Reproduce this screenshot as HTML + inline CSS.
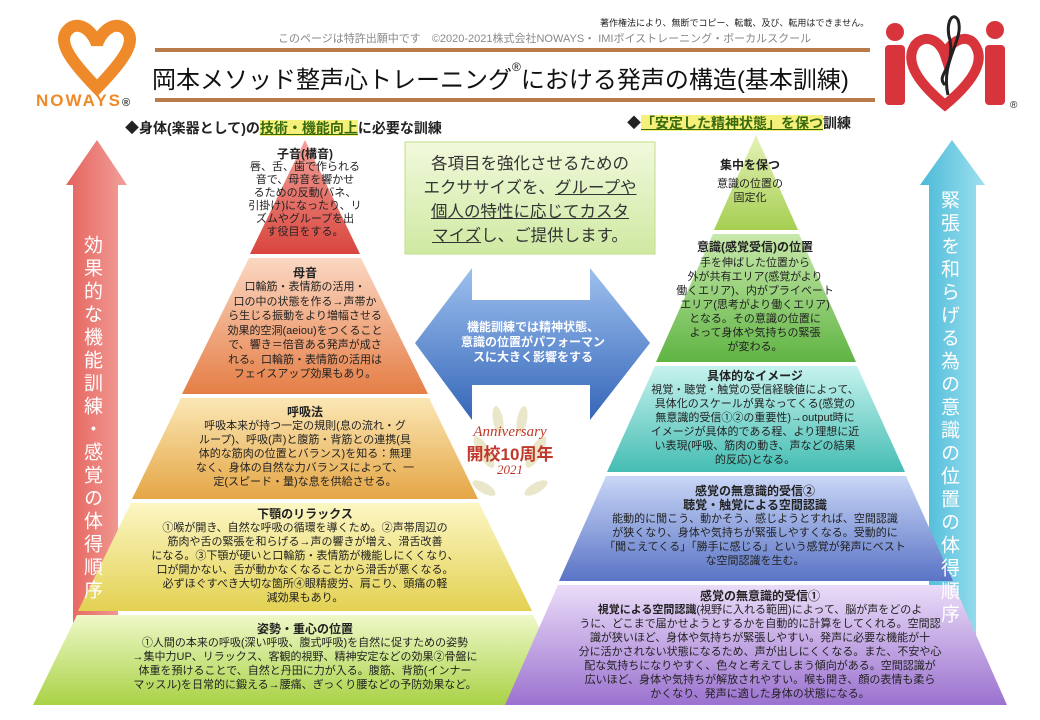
<!DOCTYPE html>
<html><head><meta charset="utf-8"><style>
body{margin:0;width:1040px;height:720px;overflow:hidden;background:#fff;font-family:"Liberation Sans","Noto Sans CJK JP",sans-serif;}
.a{position:absolute;color:#222;text-align:center;}
.t{font-weight:bold;font-size:12px;line-height:14px;}
.b{font-size:11px;line-height:14px;}
.v{position:absolute;writing-mode:vertical-rl;font-size:19px;letter-spacing:4px;font-family:"Noto Sans CJK JP",sans-serif;}
</style></head><body>
<svg width="1040" height="720" style="position:absolute;left:0;top:0">
<defs>
<linearGradient id="g1" x1="0" y1="0" x2="0" y2="1"><stop offset="0" stop-color="#f3a39b"/><stop offset="1" stop-color="#d8453d"/></linearGradient>
<linearGradient id="g2" x1="0" y1="0" x2="0" y2="1"><stop offset="0" stop-color="#fbd7c2"/><stop offset="1" stop-color="#e57e46"/></linearGradient>
<linearGradient id="g3" x1="0" y1="0" x2="0" y2="1"><stop offset="0" stop-color="#fbe7b5"/><stop offset="1" stop-color="#e5a646"/></linearGradient>
<linearGradient id="g4" x1="0" y1="0" x2="0" y2="1"><stop offset="0" stop-color="#fcf6c4"/><stop offset="1" stop-color="#e3d152"/></linearGradient>
<linearGradient id="g5" x1="0" y1="0" x2="0" y2="1"><stop offset="0" stop-color="#eef8c8"/><stop offset="1" stop-color="#a9d246"/></linearGradient>
<linearGradient id="h1" x1="0" y1="0" x2="0" y2="1"><stop offset="0" stop-color="#e5f2b7"/><stop offset="1" stop-color="#a6cf52"/></linearGradient>
<linearGradient id="h2" x1="0" y1="0" x2="0" y2="1"><stop offset="0" stop-color="#c8e9ac"/><stop offset="1" stop-color="#5fb443"/></linearGradient>
<linearGradient id="h3" x1="0" y1="0" x2="0" y2="1"><stop offset="0" stop-color="#c6f2ee"/><stop offset="1" stop-color="#45bdb3"/></linearGradient>
<linearGradient id="h4" x1="0" y1="0" x2="0" y2="1"><stop offset="0" stop-color="#c9d6f6"/><stop offset="1" stop-color="#5a74c6"/></linearGradient>
<linearGradient id="h5" x1="0" y1="0" x2="0" y2="1"><stop offset="0" stop-color="#eadcf8"/><stop offset="1" stop-color="#9b72cf"/></linearGradient>
<linearGradient id="bl" x1="0" y1="0" x2="0" y2="1"><stop offset="0" stop-color="#9dc0ee"/><stop offset="1" stop-color="#3566b8"/></linearGradient>
<linearGradient id="ra" x1="0" y1="0" x2="1" y2="0"><stop offset="0" stop-color="#e5625c"/><stop offset="1" stop-color="#f2a09a"/></linearGradient>
<linearGradient id="ca" x1="0" y1="0" x2="1" y2="0"><stop offset="0" stop-color="#49bad8"/><stop offset="1" stop-color="#9fe0ef"/></linearGradient>
<linearGradient id="bx" x1="0" y1="0" x2="0" y2="1"><stop offset="0" stop-color="#f1f9dc"/><stop offset="1" stop-color="#cfe9a2"/></linearGradient>
</defs>
<line x1="155" y1="50" x2="870" y2="50" stroke="#b97b4a" stroke-width="4"/>
<line x1="155" y1="100" x2="875" y2="100" stroke="#b97b4a" stroke-width="4"/>
<path d="M97 88 C70 60,55 40,70 28 C82 20,95 35,97 45 C99 35,112 20,124 28 C139 40,124 60,97 88 Z" fill="none" stroke="#ee8a2a" stroke-width="12"/>
<rect x="885" y="45" width="20" height="60" rx="4" fill="#d8343c"/>
<circle cx="895" cy="32" r="9" fill="#d8343c"/>
<path d="M945 105 C915 80,905 60,915 45 C925 33,940 40,945 55 C950 40,968 33,975 45 C985 60,975 80,945 105Z" fill="none" stroke="#d8343c" stroke-width="10"/>
<rect x="985" y="45" width="20" height="60" rx="4" fill="#d8343c"/>
<circle cx="995" cy="30" r="9" fill="#d8343c"/>
<path d="M948 95 C940 60,965 40,958 20 C952 10,945 25,950 40 C955 70,935 75,945 85" fill="none" stroke="#222" stroke-width="3"/>
<polygon points="97,140 127,185 118,185 118,665 73,665 73,185 66,185" fill="url(#ra)"/>
<polygon points="952,140 985,185 976,185 976,660 929,660 929,185 920,185" fill="url(#ca)"/>
<polygon points="305,140 360,254 250,254" fill="url(#g1)"/>
<polygon points="249,258 361,258 428,394 182,394" fill="url(#g2)"/>
<polygon points="181,398 429,398 478,499 132,499" fill="url(#g3)"/>
<polygon points="131,503 479,503 532,611 78,611" fill="url(#g4)"/>
<polygon points="77,615 533,615 577,705 33,705" fill="url(#g5)"/>
<rect x="405" y="142" width="250" height="112" fill="url(#bx)" stroke="#c3dd8a"/>
<polygon points="415,343 472,268 472,300 590,300 590,268 650,343 590,420 590,385 472,385 472,420" fill="url(#bl)"/>
<g fill="#e2dcb4" opacity="0.7">
<ellipse cx="484" cy="452" rx="6" ry="18" transform="rotate(-30 484 452)"/>
<ellipse cx="536" cy="452" rx="6" ry="18" transform="rotate(30 536 452)"/>
<ellipse cx="498" cy="420" rx="5" ry="14" transform="rotate(-10 498 420)"/>
<ellipse cx="522" cy="420" rx="5" ry="14" transform="rotate(10 522 420)"/>
<ellipse cx="484" cy="488" rx="5" ry="13" transform="rotate(-60 484 488)"/>
<ellipse cx="536" cy="488" rx="5" ry="13" transform="rotate(60 536 488)"/>
</g>
<polygon points="756,135 798,230 714,230" fill="url(#h1)"/>
<polygon points="713,234 799,234 856,362 656,362" fill="url(#h2)"/>
<polygon points="655,366 857,366 905,472 607,472" fill="url(#h3)"/>
<polygon points="606,476 906,476 953,581 559,581" fill="url(#h4)"/>
<polygon points="558,585 954,585 1007,705 505,705" fill="url(#h5)"/>
</svg>

<div class="a" style="left:36px;top:91px;font-size:17px;font-weight:bold;color:#ee8a2a;letter-spacing:2px;">NOWAYS<span style="font-size:11px;color:#333">®</span></div>
<div class="a" style="left:1010px;top:100px;font-size:10px;">®</div>
<div class="a" style="left:600px;top:16px;font-size:9px;">著作権法により、無断でコピー、転載、及び、転用はできません。</div>
<div class="a" style="left:278px;top:30px;font-size:11px;color:#888;">このページは特許出願中です　©2020-2021株式会社NOWAYS・ IMIボイストレーニング・ボーカルスクール</div>
<div class="a" style="left:152px;top:60px;font-size:24px;color:#111;white-space:nowrap;">岡本メソッド整声心トレーニング<span style="font-size:12px;vertical-align:top">®</span>における発声の構造(基本訓練)</div>
<div class="a" style="left:125px;top:118px;font-size:14px;font-weight:bold;white-space:nowrap;">◆身体(楽器として)の<span style="background:#f5f07a;color:#3a6a10;text-decoration:underline">技術・機能向上</span>に必要な訓練</div>
<div class="a" style="left:627px;top:113px;font-size:14px;font-weight:bold;white-space:nowrap;">◆<span style="background:#f5f07a;color:#3a6a10;text-decoration:underline">「安定した精神状態」を保つ</span>訓練</div>

<div class="v" style="left:80px;top:235px;color:#fff;">効果的な機能訓練・感覚の体得順序</div>
<div class="v" style="left:937px;top:190px;color:#fff;">緊張を和らげる為の意識の位置の体得順序</div>

<div class="a" style="left:405px;top:152px;width:250px;font-size:16.5px;line-height:24px;color:#333;">各項目を強化させるための<br>エクササイズを、<u>グループや</u><br><u>個人の特性に応じてカスタ</u><br><u>マイズ</u>し、ご提供します。</div>
<div class="a" style="left:418px;top:320px;width:230px;font-size:12px;line-height:15px;color:#fff;font-weight:bold;">機能訓練では精神状態、<br>意識の位置がパフォーマン<br>スに大きく影響をする</div>
<div class="a" style="left:460px;top:424px;width:100px;font-family:'Liberation Serif',serif;font-style:italic;color:#c0392b;font-size:15px;">Anniversary</div>
<div class="a" style="left:460px;top:440px;width:100px;color:#c0392b;font-size:17px;font-weight:bold;">開校10周年</div>
<div class="a" style="left:460px;top:462px;width:100px;font-family:'Liberation Serif',serif;font-style:italic;color:#c0392b;font-size:13px;">2021</div>

<div class="a" style="left:245px;top:147px;width:120px;"><div class="t">子音(構音)</div><div class="b" style="line-height:13px;">唇、舌、歯で作られる<br>音で、母音を響かせ<br>るための反動(バネ、<br>引掛け)になったり、リ<br>ズムやグループを出<br>す役目をする。</div></div>
<div class="a" style="left:205px;top:266px;width:200px;"><div class="t">母音</div><div class="b" style="line-height:14.5px;">口輪筋・表情筋の活用・<br>口の中の状態を作る→声帯か<br>ら生じる振動をより増幅させる<br>効果的空洞(aeiou)をつくること<br>で、響き＝倍音ある発声が成さ<br>れる。口輪筋・表情筋の活用は<br>フェイスアップ効果もあり。</div></div>
<div class="a" style="left:150px;top:405px;width:310px;"><div class="t">呼吸法</div><div class="b">呼吸本来が持つ一定の規則(息の流れ・グ<br>ループ)、呼吸(声)と腹筋・背筋との連携(具<br>体的な筋肉の位置とバランス)を知る：無理<br>なく、身体の自然な力バランスによって、一<br>定(スピード・量)な息を供給させる。</div></div>
<div class="a" style="left:110px;top:507px;width:390px;"><div class="t">下顎のリラックス</div><div class="b">①喉が開き、自然な呼吸の循環を導くため。②声帯周辺の<br>筋肉や舌の緊張を和らげる→声の響きが増え、滑舌改善<br>になる。③下顎が硬いと口輪筋・表情筋が機能しにくくなり、<br>口が開かない、舌が動かなくなることから滑舌が悪くなる。<br>必ずほぐすべき大切な箇所④眼精疲労、肩こり、頭痛の軽<br>減効果もあり。</div></div>
<div class="a" style="left:110px;top:622px;width:390px;"><div class="t">姿勢・重心の位置</div><div class="b">①人間の本来の呼吸(深い呼吸、腹式呼吸)を自然に促すための姿勢<br>→集中力UP、リラックス、客観的視野、精神安定などの効果②骨盤に<br>体重を預けることで、自然と丹田に力が入る。腹筋、背筋(インナー<br>マッスル)を日常的に鍛える→腰痛、ぎっくり腰などの予防効果など。</div></div>

<div class="a" style="left:700px;top:158px;width:100px;"><div class="t">集中を保つ</div><div class="b" style="margin-top:5px;">意識の位置の<br>固定化</div></div>
<div class="a" style="left:665px;top:240px;width:180px;"><div class="t">意識(感覚受信)の位置</div><div class="b" style="margin-top:2px;">手を伸ばした位置から<br>外が共有エリア(感覚がより<br>働くエリア)、内がプライベート<br>エリア(思考がより働くエリア)<br>となる。その意識の位置に<br>よって身体や気持ちの緊張<br>が変わる。</div></div>
<div class="a" style="left:620px;top:369px;width:270px;"><div class="t">具体的なイメージ</div><div class="b">視覚・聴覚・触覚の受信経験値によって、<br>具体化のスケールが異なってくる(感覚の<br>無意識的受信①②の重要性)→output時に<br>イメージが具体的である程、より理想に近<br>い表現(呼吸、筋肉の動き、声などの結果<br>的反応)となる。</div></div>
<div class="a" style="left:580px;top:484px;width:350px;"><div class="t">感覚の無意識的受信②<br>聴覚・触覚による空間認識</div><div class="b">能動的に聞こう、動かそう、感じようとすれば、空間認識<br>が狭くなり、身体や気持ちが緊張しやすくなる。受動的に<br>「聞こえてくる」「勝手に感じる」という感覚が発声にベスト<br>な空間認識を生む。</div></div>
<div class="a" style="left:540px;top:589px;width:440px;"><div class="t">感覚の無意識的受信①</div><div class="b"><b>視覚による空間認識</b>(視野に入れる範囲)によって、脳が声をどのよ<br>うに、どこまで届かせようとするかを自動的に計算をしてくれる。空間認<br>識が狭いほど、身体や気持ちが緊張しやすい。発声に必要な機能が十<br>分に活かされない状態になるため、声が出しにくくなる。また、不安や心<br>配な気持ちになりやすく、色々と考えてしまう傾向がある。空間認識が<br>広いほど、身体や気持ちが解放されやすい。喉も開き、顔の表情も柔ら<br>かくなり、発声に適した身体の状態になる。</div></div>
</body></html>
